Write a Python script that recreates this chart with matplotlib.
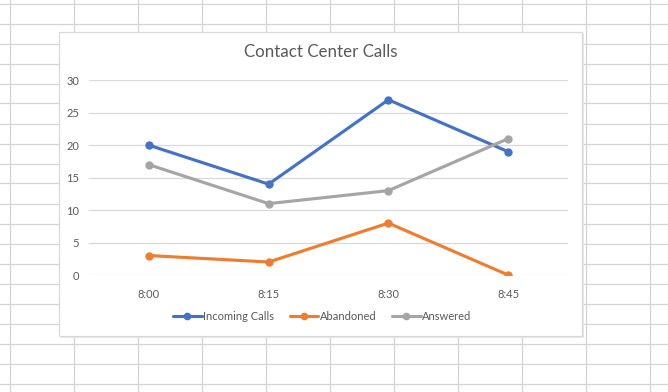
import matplotlib
matplotlib.use("Agg")
import matplotlib.pyplot as plt
from matplotlib.lines import Line2D
from matplotlib.patches import Rectangle

# ---- data ----
times = ["8:00", "8:15", "8:30", "8:45"]
incoming = [20, 14, 27, 19]
abandoned = [3, 2, 8, 0]
answered = [17, 11, 13, 21]
yticks = [0, 5, 10, 15, 20, 25, 30]
title = "Contact Center Calls"

W, H = 668, 392
plt.rcParams['font.family'] = ['Lato', 'DejaVu Sans']
fig = plt.figure(figsize=(W / 100, H / 100), dpi=100)
fig.patch.set_facecolor("white")

def fx(px):
    return px / W

def fy(py):
    return 1 - py / H

# spreadsheet background grid
gcol = "#d4d4d4"
x = 9.5
while x < W:
    fig.add_artist(Line2D([fx(x), fx(x)], [0, 1], transform=fig.transFigure,
                          color=gcol, lw=0.9, zorder=-3))
    x += 64
y = 3.5
while y < H:
    fig.add_artist(Line2D([0, 1], [fy(y), fy(y)], transform=fig.transFigure,
                          color=gcol, lw=0.9, zorder=-3))
    y += 20

# chart area box
cl, cr, ct, cb = 59.3, 582.3, 31.7, 336
fig.add_artist(Rectangle((fx(cl + 1.5), fy(cb + 1.5)), fx(cr - cl), (cb - ct) / H,
                         transform=fig.transFigure, facecolor="#e6e6e6",
                         edgecolor="none", zorder=-2.5))
fig.add_artist(Rectangle((fx(cl), fy(cb)), fx(cr - cl), (cb - ct) / H,
                         transform=fig.transFigure, facecolor="white",
                         edgecolor="#d9d9d9", lw=0.9, zorder=-2))

# plot area
pl, pr, pt, pb = 89, 568, 80.3, 275
ax = fig.add_axes([fx(pl), fy(pb), fx(pr - pl), (pb - pt) / H])
ax.set_facecolor("none")
xs = list(range(len(times)))
series = [("Incoming Calls", incoming, "#4472C4"),
          ("Abandoned", abandoned, "#ED7D31"),
          ("Answered", answered, "#A5A5A5")]
for name, vals, c in series:
    ax.plot(xs, vals, color=c, lw=2.25, marker="o", markersize=5,
            label=name, solid_capstyle="round", zorder=3)

ax.set_xlim(-0.5, len(times) - 0.5)
ax.set_ylim(0, 30)
ax.set_yticks(yticks)
ax.set_xticks(xs)
ax.set_xticklabels(times)
ax.grid(axis="y", color="#d9d9d9", lw=0.9)
ax.set_axisbelow(True)
for s in ax.spines.values():
    s.set_visible(False)
ax.tick_params(axis="both", length=0, labelsize=8, labelcolor="#595959")
ax.tick_params(axis="y", pad=7)
ax.tick_params(axis="x", pad=10)

fig.text(fx(320.5), fy(52), title, ha="center", va="center",
         fontsize=12.2, color="#595959")

fig.legend(loc="center", bbox_to_anchor=(fx(322), fy(316)), ncol=3,
           frameon=False, fontsize=8, labelcolor="#595959", handlelength=2.6,
           handletextpad=0.1, columnspacing=1.4, numpoints=1, markerscale=0.9)

fig.savefig("out.png", dpi=100, facecolor="white")
